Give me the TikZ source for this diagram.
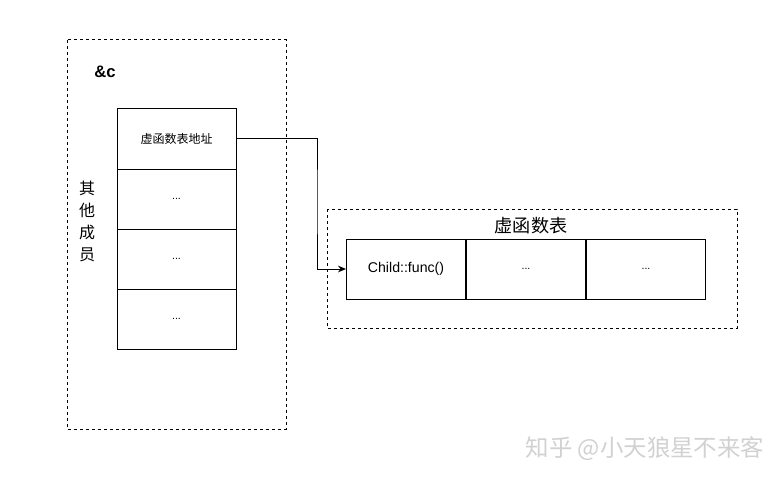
\documentclass[tikz,border=0pt]{standalone}
\usepackage{fontspec}
\setmainfont{Liberation Sans}
\newfontfamily\cjk{Noto Sans CJK SC}
\usetikzlibrary{arrows.meta}
\tikzset{
  cell/.style={draw, line width=0.75pt, minimum width=89.25pt, minimum height=45pt, inner sep=0pt, font=\fontsize{8}{9}\selectfont},
  frame/.style={draw, line width=0.75pt, dash pattern=on 2.25pt off 2.25pt}
}
\begin{document}
\begin{tikzpicture}[x=0.75pt,y=-0.75pt]
        \useasboundingbox (0,0) rectangle (784,481);
        % Marco de &c
        \draw[frame] (67,40) rectangle (286,429);
        \node[font=\bfseries\fontsize{12.5}{14}\selectfont] (obj) at (105,72) {\&c};
        \node[font=\cjk\fontsize{12}{16.5}\selectfont, align=center] (others) at (87,221) {其\\他\\成\\员};
        % Celdas del objeto
        \node[cell] (addr) at (176.5,139) {\cjk\fontsize{9}{10}\selectfont 虚函数表地址};
        \node[cell] (m1) at (176.5,199) {...};
        \node[cell] (m2) at (176.5,259) {...};
        \node[cell] (m3) at (176.5,319) {...};
        % Marco de la tabla
        \draw[frame] (327,209) rectangle (737,328);
        \node[font=\cjk\fontsize{13.6}{15}\selectfont] (vtbl) at (531,226) {虚函数表};
        \node[cell, font=\fontsize{10.6}{12}\selectfont] (func) at (406,269) {Child::func()};
        \node[cell] (f1) at (526,269) {...};
        \node[cell] (f2) at (646,269) {...};
        % Flecha
        \coordinate (bend) at (317,200);
        \draw[line width=0.75pt, -{Stealth[length=6pt,width=5pt]}] (addr.east) -| (bend) |- (func.west);
        % Marca de agua
        \node[font=\cjk\fontsize{17.6}{20}\selectfont, text=black!18] (mark) at (645,449) {知乎 @小天狼星不来客};
    \end{tikzpicture}
\end{document}
